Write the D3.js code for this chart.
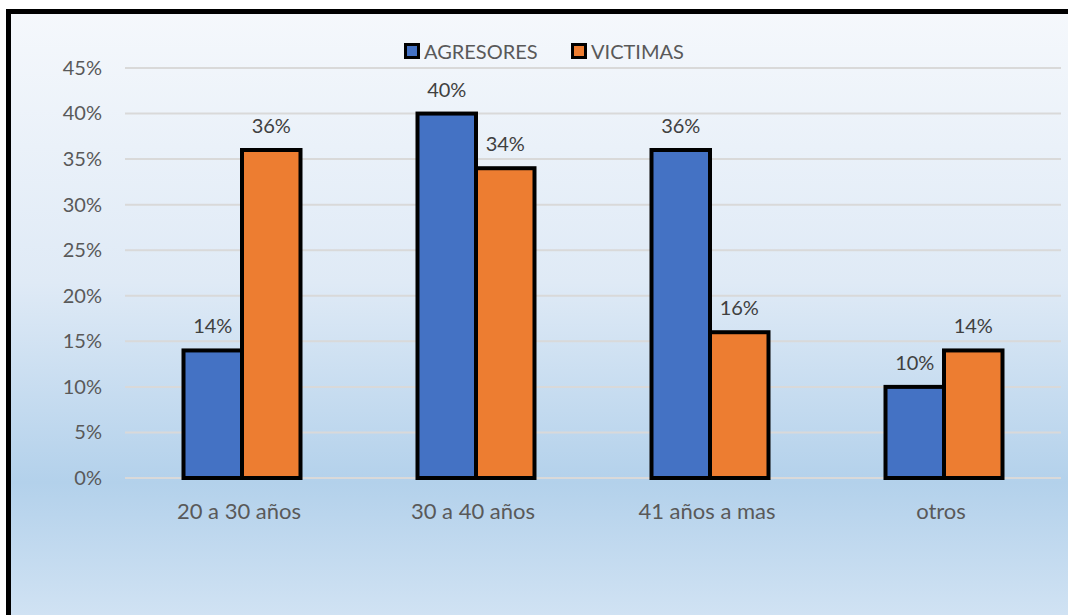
<!DOCTYPE html>
<html>
<head>
<meta charset="utf-8">
<script src="https://cdn.jsdelivr.net/npm/d3@7"></script>
<style>
  html, body { margin: 0; background: #fff; overflow: hidden; }
  svg { display: block; }
  text { font-family: Lato, "Open Sans", sans-serif; }
</style>
</head>
<body>
<svg width="1068" height="615"></svg>
<script>
// chart data
var categories = ['20 a 30 años', '30 a 40 años', '41 años a mas', 'otros'];
var seriesNames = ['AGRESORES', 'VICTIMAS'];
var agresores = [0.14, 0.40, 0.36, 0.10];
var victimas = [0.36, 0.34, 0.16, 0.14];
var yTicks = [0, 0.05, 0.10, 0.15, 0.20, 0.25, 0.30, 0.35, 0.40, 0.45];
var colors = ['#4472c4', '#ed7d31'];

var svg = d3.select('svg');
var W = +svg.attr('width');
var H = +svg.attr('height');

// plot area
var plot = { l: 125, r: 1061, t: 68, b: 478 };

// background gradient
var defs = svg.append('defs');
var grad = defs.append('linearGradient')
    .attr('id', 'bg')
    .attr('x1', 0).attr('y1', 0).attr('x2', 0).attr('y2', 1);
grad.append('stop').attr('offset', '0%').attr('stop-color', '#f5f8fc');
grad.append('stop').attr('offset', '45%').attr('stop-color', '#dfeaf6');
grad.append('stop').attr('offset', '78%').attr('stop-color', '#b3d1eb');
grad.append('stop').attr('offset', '100%').attr('stop-color', '#d0e2f3');

// chart area fill, border only on left and top (frame is cut off right/bottom)
svg.append('rect')
    .attr('x', 8.5).attr('y', 11.5)
    .attr('width', W - 8.5).attr('height', H - 11.5)
    .attr('fill', 'url(#bg)');

svg.append('path')
    .attr('d', 'M8.5,' + H + 'V11.5H' + W)
    .attr('fill', 'none')
    .attr('stroke', '#000')
    .attr('stroke-width', 5);

// scales
var x = d3.scaleBand()
    .domain(categories)
    .range([plot.l, plot.r])
    .paddingInner(0.5)
    .paddingOuter(0.25);

var xInner = d3.scaleBand()
    .domain(seriesNames)
    .range([0, x.bandwidth()]);

var y = d3.scaleLinear()
    .domain([0, 0.45])
    .range([plot.b, plot.t]);

// gridlines
svg.append('g').selectAll('line')
    .data(yTicks)
    .enter().append('line')
    .attr('x1', plot.l).attr('x2', plot.r)
    .attr('y1', d => y(d)).attr('y2', d => y(d))
    .attr('stroke', '#d9d9d9')
    .attr('stroke-width', 2);

// y axis labels
var yAxis = svg.append('g')
    .attr('transform', 'translate(102,0)')
    .call(d3.axisLeft(y).tickValues(yTicks).tickFormat(d3.format('.0%')).tickSize(0).tickPadding(0));
yAxis.select('.domain').remove();
yAxis.selectAll('text')
    .style('font-size', '20px')
    .style('font-family', 'Lato, sans-serif')
    .attr('fill', '#595959');

// x axis labels
var xAxis = svg.append('g')
    .attr('transform', 'translate(-3,' + (plot.b + 25) + ')')
    .call(d3.axisBottom(x).tickSize(0).tickPadding(0));
xAxis.select('.domain').remove();
xAxis.selectAll('text')
    .style('font-size', '22px')
    .style('font-family', 'Lato, sans-serif')
    .attr('fill', '#595959');

// bars
var rows = categories.map(function(c, i) {
    return { cat: c, values: [agresores[i], victimas[i]] };
});

var groups = svg.selectAll('.cat')
    .data(rows)
    .enter().append('g')
    .attr('class', 'cat')
    .attr('transform', d => 'translate(' + x(d.cat) + ',0)');

groups.selectAll('rect')
    .data(d => d.values.map((v, j) => ({ name: seriesNames[j], value: v, j: j })))
    .enter().append('rect')
    .attr('x', d => xInner(d.name))
    .attr('y', d => y(d.value))
    .attr('width', xInner.bandwidth())
    .attr('height', d => plot.b - y(d.value))
    .attr('fill', d => colors[d.j])
    .attr('stroke', '#000')
    .attr('stroke-width', 4);

groups.selectAll('.lbl')
    .data(d => d.values.map((v, j) => ({ name: seriesNames[j], value: v })))
    .enter().append('text')
    .attr('class', 'lbl')
    .attr('x', d => xInner(d.name) + xInner.bandwidth() / 2)
    .attr('y', d => y(d.value) - 17)
    .attr('text-anchor', 'middle')
    .style('font-size', '20px')
    .attr('fill', '#404040')
    .text(d => d3.format('.0%')(d.value));

// legend
var legendX = [404, 571];
var legend = svg.selectAll('.leg')
    .data(seriesNames)
    .enter().append('g')
    .attr('class', 'leg')
    .attr('transform', (d, i) => 'translate(' + legendX[i] + ',43)');

legend.append('rect')
    .attr('x', 1.5).attr('y', 1.5)
    .attr('width', 13).attr('height', 13)
    .attr('fill', (d, i) => colors[i])
    .attr('stroke', '#000')
    .attr('stroke-width', 3);

legend.append('text')
    .attr('x', 20)
    .attr('y', 16)
    .style('font-size', '20px')
    .attr('fill', '#595959')
    .text(d => d);
</script>
</body>
</html>
